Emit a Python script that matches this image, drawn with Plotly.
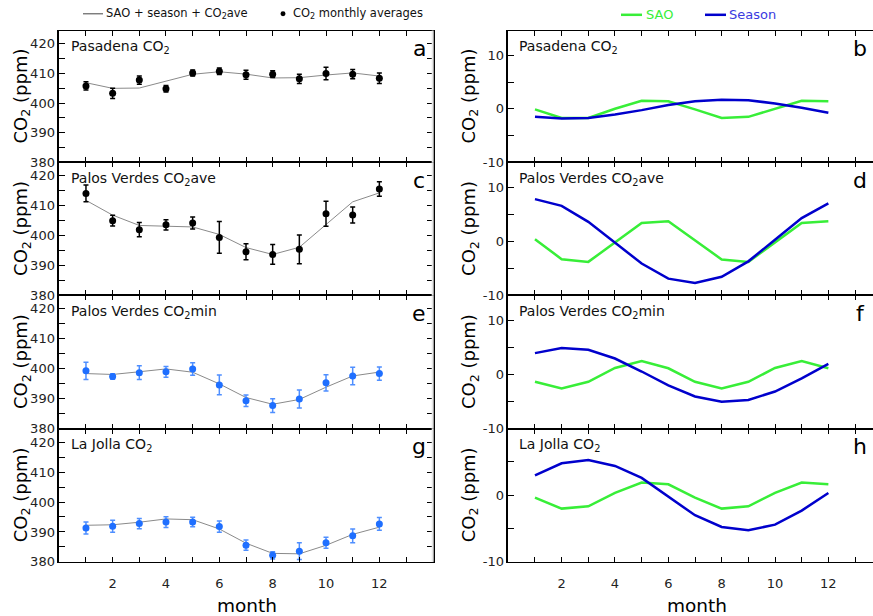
import plotly.graph_objects as go

# ---------------------------------------------------------------- data
months = list(range(1, 13))

# Observed monthly CO2 averages (ppm) and their spread
pasadena_obs = [405.8, 403.3, 407.8, 404.9, 410.2, 410.8, 409.6, 409.8, 408.2, 410.0, 409.8, 408.4]
pasadena_err = [1.4, 1.7, 1.4, 1.1, 1.0, 1.1, 1.5, 1.1, 1.6, 2.1, 1.6, 1.8]
pv_ave_obs = [414.1, 405.0, 402.0, 403.6, 404.2, 399.4, 394.6, 393.7, 395.4, 407.3, 406.9, 415.6]
pv_ave_err = [2.8, 1.8, 2.4, 1.7, 2.0, 5.3, 2.7, 3.3, 4.8, 4.2, 2.7, 2.4]
pv_min_obs = [399.3, 397.4, 398.7, 399.0, 399.9, 394.6, 389.3, 387.7, 389.9, 395.3, 397.6, 398.4]
pv_min_err = [2.9, 0.9, 2.3, 1.8, 2.1, 3.3, 1.9, 2.3, 3.0, 2.7, 2.9, 2.2]
lajolla_obs = [391.3, 391.9, 392.8, 393.3, 393.3, 391.8, 385.6, 382.2, 383.6, 386.4, 388.7, 392.7]
lajolla_err = [2.0, 2.0, 1.7, 1.8, 1.6, 1.9, 1.7, 1.2, 2.8, 1.8, 2.3, 2.1]

# Fitted components: semi-annual oscillation (SAO), seasonal cycle, mean level
pasadena_sao = [-0.1, -1.7, -1.7, 0.0, 1.5, 1.4, -0.1, -1.7, -1.5, 0.0, 1.5, 1.4]
pasadena_season = [-1.5, -1.8, -1.7, -1.05, -0.25, 0.7, 1.4, 1.7, 1.6, 1.0, 0.2, -0.75]
pasadena_ave = 408.5

pv_ave_sao = [0.4, -3.3, -3.8, -0.2, 3.4, 3.7, 0.1, -3.35, -3.8, -0.2, 3.4, 3.7]
pv_ave_season = [7.8, 6.55, 3.6, -0.2, -4.1, -6.9, -7.7, -6.55, -3.7, 0.3, 4.3, 7.0]
pv_ave_ave = 403.6

pv_min_sao = [-1.35, -2.6, -1.35, 1.2, 2.5, 1.15, -1.35, -2.6, -1.35, 1.2, 2.5, 1.15]
pv_min_season = [3.95, 4.9, 4.55, 2.95, 0.55, -2.0, -4.05, -5.05, -4.7, -3.15, -0.7, 1.95]
pv_min_ave = 395.8

lajolla_sao = [-0.35, -2.0, -1.65, 0.35, 1.9, 1.65, -0.35, -2.0, -1.65, 0.35, 1.9, 1.65]
lajolla_season = [2.98, 4.8, 5.3, 4.4, 2.6, -0.25, -3.0, -4.75, -5.25, -4.4, -2.3, 0.35]
lajolla_ave = 389.6

site_titles = ["Pasadena CO<sub>2</sub>", "Palos Verdes CO<sub>2</sub>ave",
               "Palos Verdes CO<sub>2</sub>min", "La Jolla CO<sub>2</sub>"]
left_letters = ["a", "c", "e", "g"]
right_letters = ["b", "d", "f", "h"]

month_ticks = [2, 4, 6, 8, 10, 12]
left_ticks = [380, 390, 400, 410, 420]
right_ticks = [-10, 0, 10]
right_ticks_last = [-10, 0]

obs_sets = [pasadena_obs, pv_ave_obs, pv_min_obs, lajolla_obs]
err_sets = [pasadena_err, pv_ave_err, pv_min_err, lajolla_err]
sao_sets = [pasadena_sao, pv_ave_sao, pv_min_sao, lajolla_sao]
season_sets = [pasadena_season, pv_ave_season, pv_min_season, lajolla_season]
ave_levels = [pasadena_ave, pv_ave_ave, pv_min_ave, lajolla_ave]

# ---------------------------------------------------------------- layout helpers
W, H = 873, 616
FONT = "DejaVu Sans"


def fx(p):
    return p / W


def fy(p):
    return 1 - p / H


def note(px, py, text, size, color="black", anchor="left", angle=0):
    return dict(x=fx(px), y=fy(py), xref="paper", yref="paper", text=text,
                xanchor=anchor, yanchor="middle", showarrow=False, textangle=angle,
                font=dict(family=FONT, size=size, color=color))


left_dom = [fx(59.3), fx(432.7)]
right_dom = [fx(508.3), 1.0]
month_px = (432.7 - 59.3) / 14.0
right_xmax = (W - 508.3) / month_px
row_edges = [31, 164.5, 299.3, 434.3, 569.3]

dot_colors = ["black", "black", "#1f6fff", "#1f6fff"]
bar_colors = ["black", "black", "#4f8fff", "#4f8fff"]
SAO_GREEN = "#38ee38"
SEASON_BLUE = "#0000cc"
TICKFONT = dict(family=FONT, size=13, color="#222")

fig = go.Figure()
annotations = []
shapes = []

for r in range(4):
    ydom = [fy(row_edges[r + 1]), fy(row_edges[r])]
    bottom = r == 3
    kl = r + 1          # left panel axes
    kr = r + 5          # right panel axes

    fit = [ave_levels[r] + s + t for s, t in zip(sao_sets[r], season_sets[r])]

    # left: fitted curve and observed monthly means
    fig.add_trace(go.Scatter(x=months, y=fit, mode="lines",
                             line=dict(color="#8a8a8a", width=1),
                             xaxis=f"x{kl}", yaxis=f"y{kl}", showlegend=False))
    fig.add_trace(go.Scatter(x=months, y=obs_sets[r], mode="markers",
                             marker=dict(color=dot_colors[r], size=7),
                             error_y=dict(type="data", array=err_sets[r], color=bar_colors[r],
                                          thickness=1.5, width=2.5),
                             xaxis=f"x{kl}", yaxis=f"y{kl}", showlegend=False))

    # right: SAO and seasonal components
    fig.add_trace(go.Scatter(x=months, y=sao_sets[r], mode="lines",
                             line=dict(color=SAO_GREEN, width=2.5),
                             xaxis=f"x{kr}", yaxis=f"y{kr}", showlegend=False))
    fig.add_trace(go.Scatter(x=months, y=season_sets[r], mode="lines",
                             line=dict(color=SEASON_BLUE, width=2.5),
                             xaxis=f"x{kr}", yaxis=f"y{kr}", showlegend=False))

    # month ticks every month; numbers only under the bottom row
    common_x = dict(ticks="inside", ticklen=5, tickwidth=1, tickcolor="black",
                    showline=True, linecolor="black", linewidth=1, mirror="ticks",
                    showgrid=False, zeroline=False, tickmode="array",
                    tickvals=month_ticks if bottom else [],
                    ticklabelstandoff=9,
                    minor=dict(ticks="inside", ticklen=5, tickwidth=1, tickcolor="black",
                               tick0=0, dtick=1, showgrid=False),
                    showticklabels=bottom, tickfont=TICKFONT)
    fig.layout[f"xaxis{kl}"] = dict(common_x, domain=left_dom, range=[0, 14], anchor=f"y{kl}")
    fig.layout[f"xaxis{kr}"] = dict(common_x, domain=right_dom, range=[0, right_xmax],
                                    anchor=f"y{kr}")

    common_y = dict(ticks="inside", ticklen=6, tickwidth=1, tickcolor="black",
                    showline=True, linecolor="black", linewidth=1.5,
                    showgrid=False, zeroline=False, tickmode="array",
                    minor=dict(ticks="inside", ticklen=6, tickwidth=1, tickcolor="black",
                               tick0=0, dtick=5, showgrid=False),
                    tickfont=TICKFONT, domain=ydom)
    fig.layout[f"yaxis{kl}"] = dict(common_y, range=[380, 424.5], anchor=f"x{kl}",
                                    mirror="ticks", tickvals=left_ticks,
                                    ticktext=[str(v) for v in left_ticks])
    if r < 3:
        rvals, rrange = right_ticks, [-10, 14.6]
    else:
        rvals, rrange = right_ticks_last, [-10, 10]
    fig.layout[f"yaxis{kr}"] = dict(common_y, range=rrange, anchor=f"x{kr}", mirror=False,
                                    tickvals=rvals, ticktext=[str(v) for v in rvals])

    # faint right border of the left panels
    shapes.append(dict(type="line", xref="paper", yref="paper",
                       x0=left_dom[1], x1=left_dom[1], y0=ydom[0], y1=ydom[1],
                       line=dict(color="#e6e6e6", width=2), layer="above"))

    ytop = row_edges[r]
    ymid = (row_edges[r] + row_edges[r + 1]) / 2
    annotations += [
        note(69, ytop + 17, site_titles[r], 14, "#111"),
        note(517, ytop + 17, site_titles[r], 14, "#111"),
        note(419, ytop + 18, left_letters[r], 22, anchor="center"),
        note(860, ytop + 18, right_letters[r], 22, anchor="center"),
        note(22, ymid, "CO<sub>2</sub> (ppm)", 18, anchor="center", angle=-90),
        note(470, ymid, "CO<sub>2</sub> (ppm)", 18, anchor="center", angle=-90),
    ]

# x-axis titles
for cx in (247, 697):
    annotations.append(note(cx, 613, "month", 18.5, anchor="center"))

# top legends
shapes += [
    dict(type="line", xref="paper", yref="paper", x0=fx(83), x1=fx(103), y0=fy(14), y1=fy(14),
         line=dict(color="#444", width=1)),
    dict(type="line", xref="paper", yref="paper", x0=fx(621), x1=fx(642), y0=fy(15), y1=fy(15),
         line=dict(color=SAO_GREEN, width=2.5)),
    dict(type="line", xref="paper", yref="paper", x0=fx(705), x1=fx(726), y0=fy(15), y1=fy(15),
         line=dict(color=SEASON_BLUE, width=2.5)),
    dict(type="circle", xref="paper", yref="paper", x0=fx(280.5), x1=fx(285.5),
         y0=fy(16.5), y1=fy(11.5), fillcolor="black", line=dict(color="black", width=0)),
]
annotations += [
    note(104, 14, "SAO + season + CO<sub>2</sub>ave", 11.5, "#111"),
    note(291, 14, "CO<sub>2</sub> monthly averages", 11.5, "#111"),
    note(644, 15, "SAO", 13, SAO_GREEN),
    note(727, 15, "Season", 13, "#3a3ae0"),
]

fig.update_layout(width=W, height=H, margin=dict(l=0, r=0, t=0, b=0),
                  paper_bgcolor="white", plot_bgcolor="white",
                  annotations=annotations, shapes=shapes, showlegend=False,
                  font=dict(family=FONT))

fig.write_html("out.html")
